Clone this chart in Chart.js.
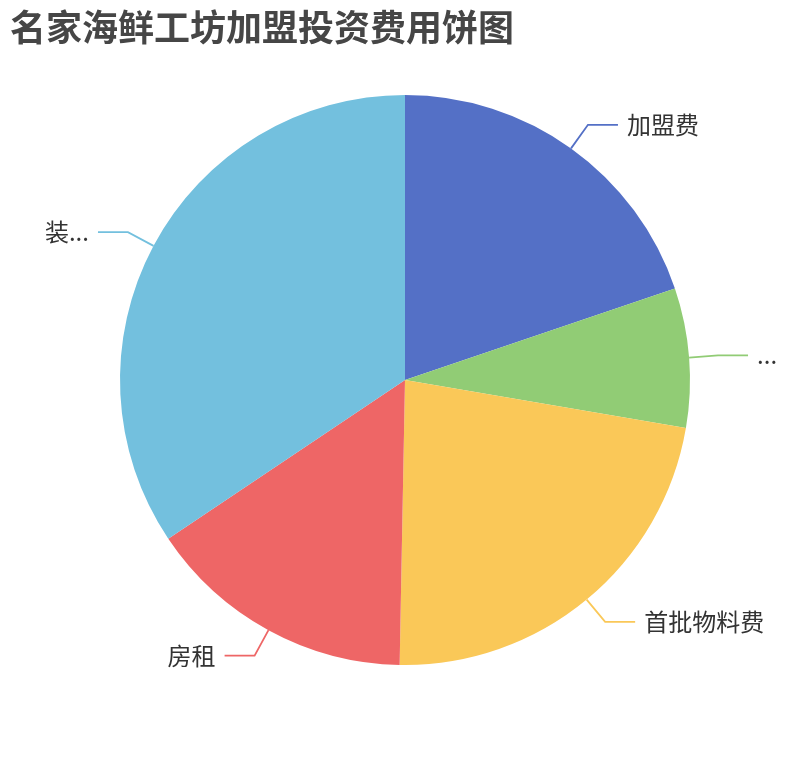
<!DOCTYPE html>
<html>
<head>
<meta charset="utf-8">
<script src="https://cdn.jsdelivr.net/npm/chart.js@4/dist/chart.umd.min.js"></script>
<style>
  html, body { margin: 0; padding: 0; background: #fff; }
  canvas { display: block; }
</style>
</head>
<body>
<canvas id="pie" width="810" height="760"></canvas>
<script>
'use strict';

// chart data (labels as they appear, truncated)
const titleText = '名家海鲜工坊加盟投资费用饼图';
const categories = ['加盟费', '...', '首批物料费', '房租', '装...'];
const values = [19.8, 7.9, 22.6, 15.3, 34.4];
const colors = ['#5470c6', '#91cc75', '#fac858', '#ee6666', '#73c0de'];

const FONT = '"Noto Sans CJK SC", "Noto Sans", sans-serif';

// title + outside labels with two-segment guide lines
const outerLabels = {
  id: 'outerLabels',
  afterDraw(chart) {
    const ctx = chart.ctx;
    ctx.save();

    ctx.fillStyle = '#464646';
    ctx.font = 'bold 36px ' + FONT;
    ctx.textAlign = 'left';
    ctx.textBaseline = 'middle';
    ctx.fillText(titleText, 10, 27);

    const meta = chart.getDatasetMeta(0);
    meta.data.forEach((arc, i) => {
      const p = arc.getProps(['x', 'y', 'startAngle', 'endAngle', 'outerRadius'], true);
      const mid = (p.startAngle + p.endAngle) / 2;
      const cos = Math.cos(mid), sin = Math.sin(mid);
      const x0 = p.x + cos * p.outerRadius;
      const y0 = p.y + sin * p.outerRadius;
      const x1 = p.x + cos * (p.outerRadius + 29);
      const y1 = p.y + sin * (p.outerRadius + 29);
      const right = cos >= 0;
      const x2 = x1 + (right ? 30 : -30);

      ctx.strokeStyle = colors[i];
      ctx.lineWidth = 1.8;
      ctx.beginPath();
      ctx.moveTo(x0, y0);
      ctx.lineTo(x1, y1);
      ctx.lineTo(x2, y1);
      ctx.stroke();

      ctx.fillStyle = '#333';
      ctx.font = '24px ' + FONT;
      ctx.textAlign = right ? 'left' : 'right';
      ctx.textBaseline = 'middle';
      ctx.fillText(categories[i], x2 + (right ? 9 : -9), y1);
    });

    ctx.restore();
  }
};

new Chart(document.getElementById('pie').getContext('2d'), {
  type: 'pie',
  data: {
    labels: categories,
    datasets: [{
      data: values,
      backgroundColor: colors,
      borderWidth: 0,
    }]
  },
  options: {
    responsive: false,
    animation: false,
    layout: {
      padding: { top: 95, bottom: 95, left: 120, right: 120 }
    },
    plugins: {
      legend: { display: false },
      tooltip: { enabled: false },
      title: { display: false }
    }
  },
  plugins: [outerLabels]
});
</script>
</body>
</html>
